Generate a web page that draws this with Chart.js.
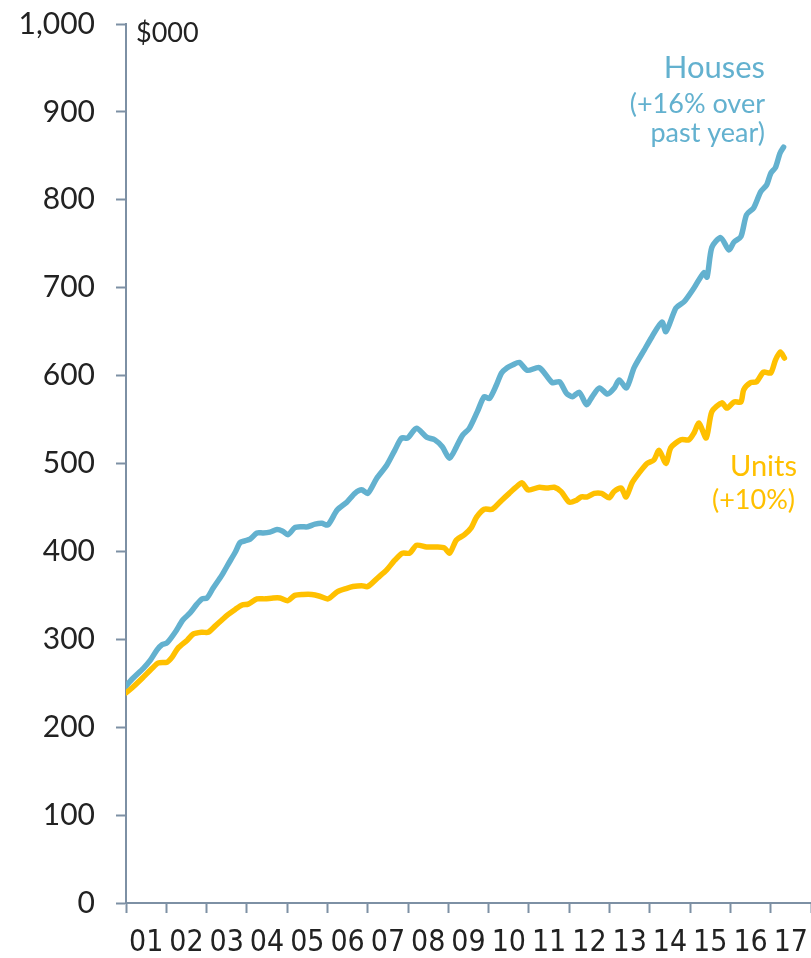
<!DOCTYPE html>
<html>
<head>
<meta charset="utf-8">
<script src="https://cdn.jsdelivr.net/npm/chart.js@4/dist/chart.umd.min.js"></script>
<style>
  html, body { margin: 0; padding: 0; background: #fff; }
  #wrap { width: 811px; height: 958px; position: relative; }
</style>
</head>
<body>
<div id="wrap"><canvas id="chart"></canvas></div>
<script>
// Datos (años decimales, miles de $)
const houseYears = [2001.00, 2001.18, 2001.43, 2001.60, 2001.77, 2001.90, 2002.02, 2002.22, 2002.41, 2002.59,
  2002.76, 2002.89, 2003.01, 2003.16, 2003.38, 2003.53, 2003.71, 2003.83, 2003.95, 2004.08,
  2004.25, 2004.40, 2004.57, 2004.75, 2004.89, 2005.02, 2005.19, 2005.36, 2005.51, 2005.69,
  2005.86, 2006.01, 2006.24, 2006.48, 2006.68, 2006.85, 2007.00, 2007.22, 2007.47, 2007.67,
  2007.84, 2007.99, 2008.21, 2008.46, 2008.66, 2008.85, 2009.03, 2009.20, 2009.35, 2009.52,
  2009.72, 2009.89, 2010.02, 2010.19, 2010.32, 2010.46, 2010.59, 2010.76, 2010.96, 2011.26,
  2011.58, 2011.76, 2011.93, 2012.08, 2012.25, 2012.43, 2012.57, 2012.75, 2012.95, 2013.12,
  2013.24, 2013.42, 2013.61, 2013.86, 2014.05, 2014.30, 2014.40, 2014.65, 2014.85, 2015.10,
  2015.34, 2015.42, 2015.54, 2015.76, 2015.96, 2016.09, 2016.26, 2016.40, 2016.58, 2016.75,
  2016.90, 2017.00, 2017.12, 2017.23, 2017.32];
const houseValues = [247, 256, 267, 276, 288, 294, 296, 308, 322, 330,
  340, 346, 347, 358, 373, 385, 399, 410, 412, 414,
  421, 421, 422, 425, 423, 419, 427, 428, 428, 431,
  432, 430, 447, 456, 466, 470, 466, 483, 498, 515,
  529, 529, 540, 530, 527, 519, 506, 519, 532, 540,
  559, 576, 574, 589, 603, 609, 612, 615, 606, 609,
  592, 593, 580, 576, 581, 567, 576, 586, 579, 586,
  595, 586, 609, 629, 644, 661, 650, 677, 684, 700,
  717, 712, 746, 757, 743, 752, 758, 783, 791, 809,
  817, 830, 837, 853, 860];

const unitYears = [2001.00, 2001.18, 2001.43, 2001.65, 2001.80, 2002.02, 2002.15, 2002.29, 2002.52, 2002.67,
  2002.89, 2003.04, 2003.21, 2003.38, 2003.53, 2003.71, 2003.88, 2004.03, 2004.25, 2004.45,
  2004.65, 2004.82, 2005.02, 2005.19, 2005.39, 2005.61, 2005.81, 2006.01, 2006.24, 2006.48,
  2006.63, 2006.85, 2007.00, 2007.25, 2007.47, 2007.67, 2007.86, 2008.04, 2008.21, 2008.46,
  2008.71, 2008.90, 2009.03, 2009.20, 2009.40, 2009.57, 2009.70, 2009.89, 2010.09, 2010.32,
  2010.51, 2010.68, 2010.83, 2010.98, 2011.26, 2011.45, 2011.63, 2011.80, 2012.00, 2012.17,
  2012.30, 2012.45, 2012.62, 2012.80, 2012.99, 2013.11, 2013.29, 2013.41, 2013.56, 2013.73,
  2013.93, 2014.10, 2014.23, 2014.40, 2014.52, 2014.77, 2014.97, 2015.10, 2015.22, 2015.40,
  2015.54, 2015.79, 2015.91, 2016.09, 2016.26, 2016.33, 2016.50, 2016.65, 2016.82, 2017.00,
  2017.12, 2017.24, 2017.34];
const unitValues = [239, 246, 257, 267, 273, 274, 280, 290, 299, 306,
  308, 308, 315, 322, 328, 334, 339, 340, 346, 346,
  347, 347, 344, 350, 351, 351, 349, 346, 354, 358,
  360, 361, 360, 370, 379, 390, 398, 398, 407, 405,
  405, 404, 398, 413, 419, 427, 439, 448, 448, 458,
  466, 473, 478, 470, 473, 472, 473, 468, 456, 458,
  462, 462, 466, 466, 461, 468, 472, 462, 478, 489,
  500, 504, 515, 500, 518, 527, 527, 535, 546, 529,
  559, 569, 563, 570, 570, 584, 592, 593, 604, 603,
  618, 627, 620];

const yearLabels = ['01','02','03','04','05','06','07','08','09','10','11','12','13','14','15','16','17'];
const firstYear = 2001;
const yTickValues = [0, 100, 200, 300, 400, 500, 600, 700, 800, 900, 1000];

const houseLabel = ['Houses', '(+16% over', 'past year)'];
const unitLabel = ['Units', '(+10%)'];

const BLUE = '#63b1cf';
const GOLD = '#ffc000';
const AXIS = '#7d90a4';
const TEXT = '#222222';

function toPoints(xs, ys) {
  return xs.map((x, i) => ({ x: x, y: ys[i] }));
}

// marcas en los límites de año + etiquetas a mitad de año
const xTicks = [];
for (let i = 0; i <= yearLabels.length; i++) {
  xTicks.push(firstYear + i);
  if (i < yearLabels.length) xTicks.push(firstYear + i + 0.5);
}

function sinPadding(scale) {
  scale.paddingTop = 0;
  scale.paddingBottom = 0;
  scale.paddingLeft = 0;
  scale.paddingRight = 0;
}

const textPlugin = {
  id: 'textos',
  afterDatasetsDraw(chart) {
    const ctx = chart.ctx;
    const area = chart.chartArea;
    ctx.save();
    ctx.textBaseline = 'alphabetic';
    ctx.fillStyle = TEXT;
    ctx.textAlign = 'left';
    ctx.font = "27px Lato, sans-serif";
    ctx.fillText('$000', area.left + 10, 42);

    ctx.textAlign = 'right';
    ctx.fillStyle = BLUE;
    ctx.font = "31px Lato, sans-serif";
    ctx.fillText(houseLabel[0], 765, 78);
    ctx.font = "27px Lato, sans-serif";
    ctx.fillText(houseLabel[1], 765, 113);
    ctx.fillText(houseLabel[2], 765, 142);

    ctx.fillStyle = GOLD;
    ctx.font = "29px Lato, sans-serif";
    ctx.fillText(unitLabel[0], 797, 476);
    ctx.font = "27px Lato, sans-serif";
    ctx.fillText(unitLabel[1], 795, 509);
    ctx.restore();
  }
};

new Chart(document.getElementById('chart'), {
  type: 'line',
  data: {
    datasets: [
      {
        label: 'Houses',
        data: toPoints(houseYears, houseValues),
        borderColor: BLUE,
        borderWidth: 5.5,
        pointRadius: 0,
        tension: 0.25,
        borderCapStyle: 'round',
        borderJoinStyle: 'round'
      },
      {
        label: 'Units',
        data: toPoints(unitYears, unitValues),
        borderColor: GOLD,
        borderWidth: 5.5,
        pointRadius: 0,
        tension: 0.25,
        borderCapStyle: 'round',
        borderJoinStyle: 'round'
      }
    ]
  },
  options: {
    responsive: true,
    maintainAspectRatio: false,
    animation: false,
    layout: { padding: { top: 24, right: 0, left: 0, bottom: 0 } },
    plugins: { legend: { display: false }, tooltip: { enabled: false } },
    scales: {
      x: {
        type: 'linear',
        min: firstYear,
        max: firstYear + yearLabels.length,
        afterBuildTicks: scale => { scale.ticks = xTicks.map(v => ({ value: v })); },
        afterFit: scale => { scale.height = 55; sinPadding(scale); },
        border: { color: AXIS, width: 2 },
        grid: {
          drawOnChartArea: false,
          tickLength: 10,
          tickWidth: 2,
          tickColor: c => (c.tick && Number.isInteger(c.tick.value)) ? AXIS : 'rgba(0,0,0,0)'
        },
        ticks: {
          autoSkip: false,
          maxRotation: 0,
          padding: 12,
          color: TEXT,
          font: { family: "'DejaVu Sans Condensed', Roboto, sans-serif", size: 30 },
          callback: v => Number.isInteger(v) ? '' : yearLabels[Math.floor(v) - firstYear]
        }
      },
      y: {
        min: 0,
        max: 1000,
        afterBuildTicks: scale => { scale.ticks = yTickValues.map(v => ({ value: v })); },
        afterFit: scale => { scale.width = 126; sinPadding(scale); },
        border: { color: AXIS, width: 2 },
        grid: { drawOnChartArea: false, tickLength: 10, tickWidth: 2, tickColor: AXIS },
        ticks: {
          padding: 21,
          color: TEXT,
          font: { family: 'Lato, sans-serif', size: 30 },
          callback: v => v.toLocaleString('en-US')
        }
      }
    }
  },
  plugins: [textPlugin]
});
</script>
</body>
</html>
